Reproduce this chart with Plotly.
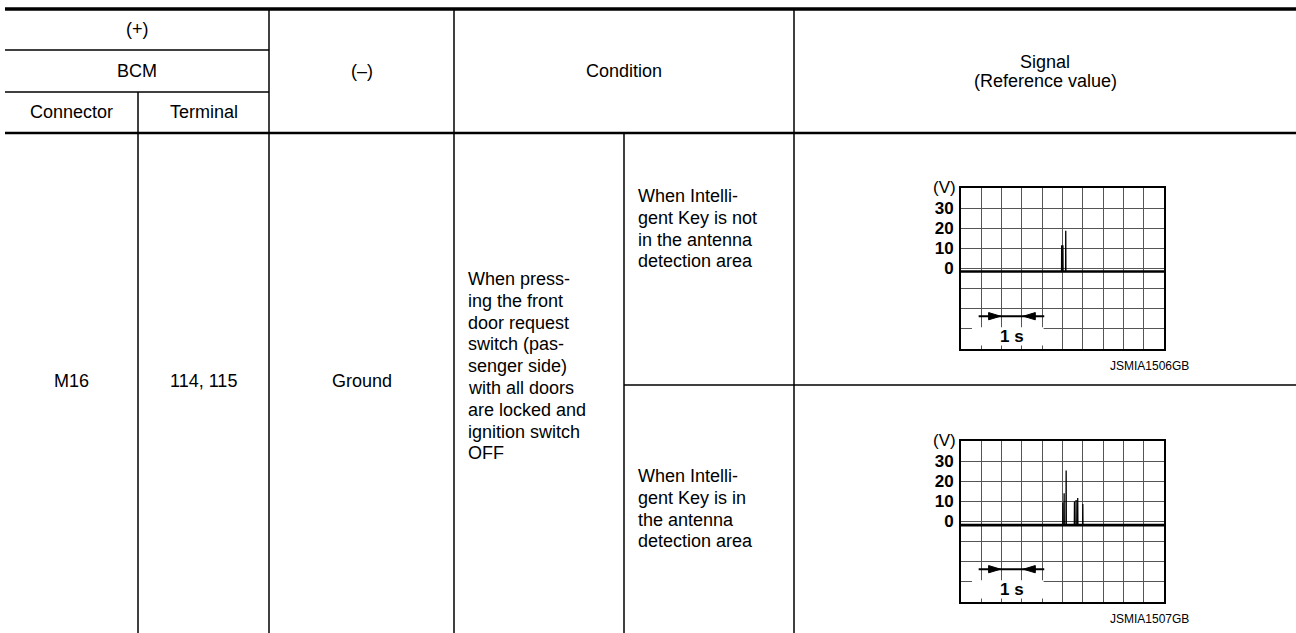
import plotly.graph_objects as go

# ---------------- data ----------------
header_plus = "(+)"
header_bcm = "BCM"
header_connector = "Connector"
header_terminal = "Terminal"
header_minus = "(–)"
header_condition = "Condition"
header_signal = ["Signal", "(Reference value)"]
row_values = ["M16", "114, 115", "Ground"]
condition_main = ["When press-", "ing the front", "door request", "switch (pas-",
                  "senger side)", "with all doors", "are locked and",
                  "ignition switch", "OFF"]
condition_sub_1 = ["When Intelli-", "gent Key is not", "in the antenna", "detection area"]
condition_sub_2 = ["When Intelli-", "gent Key is in", "the antenna", "detection area"]
figure_codes = ["JSMIA1506GB", "JSMIA1507GB"]

volt_tick_values = [-30, -20, -10, 0, 10, 20, 30]
volt_tick_labels = ["", "", "", "0", "10", "20", "30"]
time_span_label = "1 s"
volt_unit_label = "(V)"

baseline_volts = [-1.5, -1.8]
spike_times_1 = [4.96, 5.02, 5.16]
spike_volts_1 = [11.5, 11.5, 18.8]
spike_times_2 = [5.02, 5.08, 5.18, 5.59, 5.67, 5.75, 6.0]
spike_volts_2 = [9.5, 14.0, 25.3, 10.0, 10.7, 11.7, 8.7]

# ---------------- layout constants ----------------
W, H = 1296, 633
FONT = "Liberation Sans, Arial, Helvetica, sans-serif"
FS = 18
BLACK = "#000000"

fig = go.Figure()

# base axis in pixel units
fig.update_layout(
    xaxis=dict(range=[0, W], visible=False, domain=[0, 1], fixedrange=True),
    yaxis=dict(range=[H, 0], visible=False, domain=[0, 1], fixedrange=True),
)

shapes = []
def hline(y, x0, x1, w=1.5):
    shapes.append(dict(type="line", xref="x", yref="y", x0=x0, x1=x1, y0=y, y1=y,
                       line=dict(color=BLACK, width=w)))
def vline(x, y0, y1, w=1.5):
    shapes.append(dict(type="line", xref="x", yref="y", x0=x, x1=x, y0=y0, y1=y1,
                       line=dict(color=BLACK, width=w)))

# table grid
hline(9, 5, W, 3.5)
hline(50, 5, 269)
hline(92, 5, 269)
hline(133, 5, W, 2.5)
hline(385, 624, W)
vline(138, 92, H)
vline(269, 9, H)
vline(454, 9, H)
vline(624, 133, H)
vline(794, 9, H)

annotations = []
def txt(s, x, y, xanchor="center", size=FS, bold=False, ref=("x", "y")):
    annotations.append(dict(text=("<b>%s</b>" % s) if bold else s, x=x, y=y,
                            xref=ref[0], yref=ref[1], xanchor=xanchor, yanchor="middle",
                            showarrow=False, font=dict(family=FONT, size=size, color=BLACK)))

# header texts
txt(header_plus, 137, 29)
txt(header_bcm, 137, 71)
txt(header_connector, 71.5, 112)
txt(header_terminal, 203.5, 112)
txt(header_minus, 361.5, 71)
txt(header_condition, 624, 71)
txt(header_signal[0], 1045, 62)
txt(header_signal[1], 1045, 81)

# row texts
txt(row_values[0], 71.5, 381)
txt(row_values[1], 203.5, 381)
txt(row_values[2], 361.5, 381)

LS = 21.8
for i, s in enumerate(condition_main):
    txt(s, 466, 279 + i * LS, xanchor="left")
for i, s in enumerate(condition_sub_1):
    txt(s, 636, 196 + i * LS, xanchor="left")
for i, s in enumerate(condition_sub_2):
    txt(s, 636, 476 + i * LS, xanchor="left")

# ---------------- scopes ----------------
scope_left, scope_right = 961, 1164
scope_boxes = [(188, 349), (441, 602)]
spikes = [(spike_times_1, spike_volts_1), (spike_times_2, spike_volts_2)]

for k, ((top, bottom), (ts, vs)) in enumerate(zip(scope_boxes, spikes)):
    n = k + 2
    xa, ya = "x%d" % n, "y%d" % n
    base = baseline_volts[k]
    # baseline
    fig.add_trace(go.Scatter(x=[0, 10], y=[base, base], mode="lines", xaxis=xa, yaxis=ya,
                             line=dict(color=BLACK, width=2.6), hoverinfo="skip",
                             showlegend=False))
    # spikes
    xs, ys = [], []
    for t, v in zip(ts, vs):
        xs += [t - 0.008, t, t + 0.008, None]
        ys += [base, v, base, None]
    fig.add_trace(go.Scatter(x=xs, y=ys, mode="lines", xaxis=xa, yaxis=ya,
                             line=dict(color=BLACK, width=1.3), hoverinfo="skip",
                             showlegend=False, connectgaps=False))
    fig.layout["xaxis%d" % n] = dict(
        domain=[scope_left / W, scope_right / W], anchor=ya, range=[0, 10],
        dtick=1, tick0=0, showgrid=True, gridcolor="#555555", gridwidth=1,
        showticklabels=False, ticks="", zeroline=False, showline=True, mirror=True,
        linecolor=BLACK, linewidth=2, fixedrange=True)
    fig.layout["yaxis%d" % n] = dict(
        domain=[1 - bottom / H, 1 - top / H], anchor=xa, range=[-40, 40],
        tickvals=volt_tick_values, ticktext=volt_tick_labels, showgrid=True,
        gridcolor="#555555", gridwidth=1, ticks="", zeroline=False, showline=True,
        mirror=True, linecolor=BLACK, linewidth=2, fixedrange=True,
        tickfont=dict(family=FONT, size=17, color=BLACK, weight="bold"),
        ticklabelstandoff=2)
    # white label box and time-span arrow
    shapes.append(dict(type="rect", xref=xa, yref=ya, x0=0.54, x1=4.07, y0=-38.3, y1=-29.2,
                       fillcolor="white", line=dict(width=0), layer="above"))
    shapes.append(dict(type="line", xref=xa, yref=ya, x0=0.87, x1=4.1, y0=-23.7, y1=-23.7,
                       line=dict(color=BLACK, width=2), layer="above"))
    shapes.append(dict(type="path", xref=xa, yref=ya,
                       path="M 1.36,-21.9 L 1.95,-23.7 L 1.36,-25.5 Z",
                       fillcolor=BLACK, line=dict(color=BLACK, width=1), layer="above"))
    shapes.append(dict(type="path", xref=xa, yref=ya,
                       path="M 3.66,-21.9 L 3.07,-23.7 L 3.66,-25.5 Z",
                       fillcolor=BLACK, line=dict(color=BLACK, width=1), layer="above"))
    txt(time_span_label, 2.5, -33.6, size=17, bold=True, ref=(xa, ya))
    txt(volt_unit_label, scope_left - 3, top - 1, xanchor="right", size=17)
    txt(figure_codes[k], 1191, bottom + 17, xanchor="right", size=12)

fig.update_layout(
    width=W, height=H, margin=dict(l=0, r=0, t=0, b=0),
    paper_bgcolor="white", plot_bgcolor="rgba(0,0,0,0)",
    shapes=shapes, annotations=annotations, showlegend=False,
)

fig.write_html("out.html", config={"displayModeBar": False},
               post_script="document.body.style.margin='0';document.body.style.overflow='hidden';")
